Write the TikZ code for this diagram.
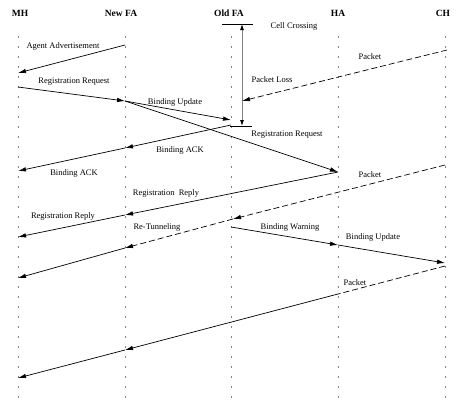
\documentclass[tikz,border=0pt]{standalone}
\usepackage{fontspec}
\setmainfont{Liberation Serif}
\usetikzlibrary{arrows.meta}

\begin{document}
\begin{tikzpicture}[
  x=1pt,y=-1pt,
  head/.style={font=\bfseries\fontsize{9.5}{11}\selectfont,inner sep=1pt},
  lbl/.style ={font=\fontsize{8.5}{10}\selectfont,inner sep=1pt},
  life/.style={gray,line width=0.5pt,dash pattern=on 2pt off 8pt},
  msg/.style ={-{Latex[length=8pt,width=4.5pt]},line width=0.7pt},
  pkt/.style ={msg,dash pattern=on 6pt off 3pt},
  tick/.style={line width=0.5pt}
]
\useasboundingbox (0,0) rectangle (457,407);

% entities and lifelines
\foreach \n/\x/\hx/\t in {mh/18/20/MH,nfa/125/121/New FA,ofa/231/229/Old FA,
                          ha/338/338/HA,ch/445/443/CH}{
  \node[head] (\n) at (\hx,13) {\t};
  \coordinate (\n-top) at (\x,36);
  \coordinate (\n-bot) at (\x,405);
  \draw[life] (\n-top) -- (\n-bot);
}

% event points
\coordinate (adv-nfa) at (125,45);
\coordinate (adv-mh)  at (18,73);
\coordinate (req-mh)  at (18,87);
\coordinate (req-nfa) at (125,101);
\coordinate (req-ha)  at (338,172);
\coordinate (bu-ofa)  at (231,120);
\coordinate (ack-ofa) at (231,125);
\coordinate (ack-nfa) at (125,148);
\coordinate (ack-mh)  at (18,171);
\coordinate (cc-top)  at (242,24);
\coordinate (cc-bot)  at (242,126);
\coordinate (pk1-ch)  at (447,50);
\coordinate (pk1-ofa) at (242,101);
\coordinate (rep-nfa) at (125,215);
\coordinate (rep-mh)  at (18,237);
\coordinate (pk2-ch)  at (445,165);
\coordinate (pk2-ofa) at (233,219);
\coordinate (rt-nfa)  at (125,248);
\coordinate (rt-mh)   at (18,278);
\coordinate (bw-ofa)  at (231,227);
\coordinate (bw-ha)   at (338,245);
\coordinate (bu2-ch)  at (445,263);
\coordinate (pk3-ch)  at (445,266);
\coordinate (pk3-ha)  at (338,294);
\coordinate (pk3-nfa) at (125,350);
\coordinate (pk3-mh)  at (18,378);

% cell crossing / packet loss
\draw[tick] ([xshift=-20pt]cc-top) -- ([xshift=11pt]cc-top);
\draw[tick] ([xshift=-12pt]cc-bot) -- ([xshift=10pt]cc-bot);
\draw[gray,line width=0.8pt,{Latex[length=6pt,width=4pt,color=black]}-{Latex[length=6pt,width=4pt,color=black]}]
  (cc-top) -- (cc-bot);

% messages
\draw[msg] (adv-nfa) -- (adv-mh);
\draw[msg] (req-mh)  -- (req-nfa);
\draw[msg] (req-nfa) -- (bu-ofa);
\draw[msg] (req-nfa) -- (req-ha);
\draw[msg] (ack-ofa) -- (ack-nfa);
\draw[msg] (ack-nfa) -- (ack-mh);
\draw[pkt] (pk1-ch)  -- (pk1-ofa);
\draw[msg] (req-ha)  -- (rep-nfa);
\draw[msg] (rep-nfa) -- (rep-mh);
\draw[pkt] (pk2-ch)  -- (pk2-ofa);
\draw[pkt] (pk2-ofa) -- (rt-nfa);
\draw[msg] (rt-nfa)  -- (rt-mh);
\draw[msg] (bw-ofa)  -- (bw-ha);
\draw[msg] (bw-ha)   -- (bu2-ch);
\draw[pkt,-] (pk3-ch) -- (pk3-ha);
\draw[msg] (pk3-ha)  -- (pk3-nfa);
\draw[msg] (pk3-nfa) -- (pk3-mh);

% labels
\node[lbl] (l-adv)  at (63,46)   {Agent Advertisement};
\node[lbl] (l-req1) at (74,82)   {Registration Request};
\node[lbl] (l-bu1)  at (175,102) {Binding Update};
\node[lbl] (l-cc)   at (294,26)  {Cell Crossing};
\node[lbl] (l-loss) at (272,80)  {Packet Loss};
\node[lbl] (l-pk1)  at (370,57)  {Packet};
\node[lbl] (l-req2) at (287,135) {Registration Request};
\node[lbl] (l-ack1) at (180,150) {Binding ACK};
\node[lbl] (l-ack2) at (74,173)  {Binding ACK};
\node[lbl] (l-rep1) at (166,193) {Registration\ \ Reply};
\node[lbl] (l-rep2) at (63,216)  {Registration Reply};
\node[lbl] (l-pk2)  at (370,175) {Packet};
\node[lbl] (l-rt)   at (157,227) {Re-Tunneling};
\node[lbl] (l-bw)   at (290,227) {Binding Warning};
\node[lbl] (l-bu2)  at (373,237) {Binding Update};
\node[lbl] (l-pk3)  at (355,283) {Packet};

\end{tikzpicture}
\end{document}
